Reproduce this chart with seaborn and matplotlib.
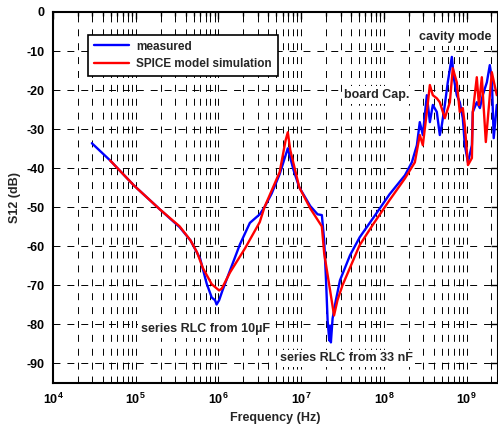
import matplotlib
matplotlib.use("Agg")
import matplotlib.pyplot as plt
import seaborn as sns
import pandas as pd
from matplotlib.lines import Line2D
from matplotlib.ticker import FixedLocator, FixedFormatter, LogLocator, NullFormatter

# ---- data ----
meas_freq = [2.95e4, 4.9e4, 9.5e4, 1.95e5, 3.4e5, 4.6e5, 6.0e5, 7.2e5, 8.3e5, 9.1e5,
             9.5e5, 1.02e6, 1.12e6, 1.38e6, 1.82e6, 2.4e6, 3.16e6, 3.6e6, 4.4e6, 5.5e6, 6.9e6,
             8.1e6, 9.5e6, 1.29e7, 1.58e7, 1.78e7, 1.9e7, 2.0e7, 2.09e7, 2.19e7, 2.24e7,
             2.29e7, 2.4e7, 2.63e7, 2.95e7, 3.9e7, 5.1e7, 7.4e7, 1.17e8, 1.80e8, 2.18e8,
             2.51e8, 2.72e8, 2.96e8, 3.31e8, 3.60e8, 3.91e8, 4.37e8, 4.75e8, 5.02e8, 5.46e8,
             5.93e8, 6.64e8, 7.01e8, 7.62e8, 8.28e8, 9.01e8, 9.53e8, 1.04e9, 1.16e9, 1.19e9,
             1.33e9, 1.45e9, 1.57e9, 1.76e9, 1.91e9, 2.02e9, 2.13e9, 2.32e9]
meas_db = [-33.6, -38.0, -44.4, -50.5, -55.1, -58.5, -63.1, -69.5, -73.1, -73.8,
           -74.9, -73.8, -71.3, -66.2, -59.5, -54.0, -51.8, -50.0, -46.5, -41.5, -34.9,
           -40.5, -44.9, -49.7, -51.8, -52.0, -58.5, -68.7, -79.0, -84.1, -80.3,
           -84.6, -78.5, -73.8, -68.7, -62.3, -57.7, -52.8, -46.7, -41.8, -38.5,
           -34.1, -28.2, -31.5, -21.3, -28.2, -23.8, -25.6, -31.5, -29.0, -23.8,
           -18.0, -11.5, -16.9, -21.3, -23.1, -27.2, -34.1, -38.5, -34.1, -25.6,
           -23.1, -24.6, -21.3, -18.0, -13.6, -16.9, -32.3, -23.8]

sim_freq = [4.9e4, 9.5e4, 1.95e5, 3.4e5, 4.6e5, 5.5e5, 6.5e5, 8.3e5, 1.02e6, 1.1e6,
            1.38e6, 2.1e6, 3.16e6, 3.6e6, 5.5e6, 6.5e6, 6.9e6, 7.4e6, 9.5e6, 1.29e7,
            1.78e7, 1.9e7, 2.24e7, 2.5e7, 2.75e7, 3.16e7, 5.1e7, 7.4e7, 1.17e8, 1.80e8,
            2.37e8, 2.72e8, 2.96e8, 3.31e8, 3.60e8, 3.91e8, 4.37e8, 4.75e8, 5.46e8, 6.28e8,
            6.82e8, 7.62e8, 8.28e8, 9.01e8, 9.53e8, 1.04e9, 1.16e9, 1.19e9, 1.33e9, 1.41e9,
            1.53e9, 1.71e9, 2.02e9, 2.32e9]
sim_db = [-38.0, -44.4, -50.5, -54.9, -58.5, -61.5, -65.6, -69.7, -71.3, -70.8,
          -66.7, -60.5, -53.8, -50.0, -41.0, -32.8, -30.8, -35.4, -44.9, -50.3,
          -54.9, -61.8, -71.3, -77.7, -73.8, -70.0, -59.7, -54.4, -48.2, -42.6,
          -38.5, -31.5, -34.1, -25.6, -18.7, -21.3, -22.1, -23.1, -27.2, -23.1,
          -14.4, -18.0, -25.6, -24.6, -29.0, -39.2, -37.4, -25.6, -16.7, -23.8,
          -16.7, -33.3, -15.4, -21.3]

series_names = ["measured", "SPICE model simulation"]
series_colors = ["#0000ff", "#ff0000"]

y_ticks = [0, -10, -20, -30, -40, -50, -60, -70, -80, -90]
x_ticks = [1e4, 1e5, 1e6, 1e7, 1e8, 1e9]
x_tick_labels = [r"$\mathbf{10^{4}}$", r"$\mathbf{10^{5}}$", r"$\mathbf{10^{6}}$",
                 r"$\mathbf{10^{7}}$", r"$\mathbf{10^{8}}$", r"$\mathbf{10^{9}}$"]

df = pd.concat([
    pd.DataFrame({"f": meas_freq, "db": meas_db, "series": series_names[0]}),
    pd.DataFrame({"f": sim_freq, "db": sim_db, "series": series_names[1]}),
])

sns.set_style("white")
plt.rcParams["font.family"] = ["Liberation Sans", "DejaVu Sans"]
plt.rcParams["font.weight"] = "bold"
plt.rcParams["axes.unicode_minus"] = False
plt.rcParams["mathtext.fontset"] = "custom"
plt.rcParams["mathtext.bf"] = "Liberation Sans:bold"
plt.rcParams["mathtext.rm"] = "Liberation Sans:bold"
plt.rcParams["lines.scale_dashes"] = False

fig = plt.figure(figsize=(4.98, 4.28), dpi=100)
ax = fig.add_axes([53/498, 1 - 383/428, 445/498, 371/428])

sns.lineplot(data=df, x="f", y="db", hue="series", palette=series_colors,
             sort=False, estimator=None, units="series", ax=ax, linewidth=1.7,
             legend=False)

ax.set_xscale("log")
ax.set_xlim(1e4, 2.4e9)
ax.set_ylim(-95, 0)

ax.xaxis.set_major_locator(FixedLocator(x_ticks))
ax.xaxis.set_major_formatter(FixedFormatter(x_tick_labels))
ax.xaxis.set_minor_locator(LogLocator(base=10, subs=[2, 3, 4, 5, 6, 7, 8, 9], numticks=20))
ax.xaxis.set_minor_formatter(NullFormatter())
ax.set_yticks(y_ticks)
ax.set_yticklabels([str(v) for v in y_ticks])

ax.grid(True, which="major", axis="both", color="black", linestyle=(0, (5, 5)), linewidth=0.7)
ax.grid(True, which="minor", axis="x", color="black", linestyle=(0, (5, 5)), linewidth=0.7)
ax.set_axisbelow(True)

for s in ax.spines.values():
    s.set_color("black")
    s.set_linewidth(1.5)
    s.set_visible(True)

ax.tick_params(axis="both", which="both", direction="in", top=True, right=True,
               colors="black", labelsize=9)
ax.tick_params(axis="both", which="major", length=5, width=1, pad=6)
ax.tick_params(axis="x", which="minor", length=3, width=1)
for lbl in ax.get_yticklabels():
    lbl.set_fontweight("bold")

ax.set_xlabel("Frequency (Hz)", fontsize=9, fontweight="bold", labelpad=4)
ax.set_ylabel("S12 (dB)", fontsize=9, fontweight="bold", labelpad=4)

handles = [Line2D([], [], color=c, linewidth=1.7) for c in series_colors]
leg = ax.legend(handles, series_names, loc="upper left", bbox_to_anchor=(0.065, 0.955),
                frameon=True, fancybox=False, edgecolor="black", framealpha=1,
                prop={"weight": "bold", "size": 8.5}, handlelength=3.0,
                borderpad=0.5, labelspacing=0.5, handletextpad=0.6)
leg.get_frame().set_linewidth(1.2)

bb = dict(facecolor="white", edgecolor="none", pad=2)
ax.text(7.2e8, -6.4, "cavity mode", ha="center", va="center", fontsize=9, fontweight="bold", bbox=bb)
ax.text(8.3e7, -21.3, "board Cap.", ha="center", va="center", fontsize=9, fontweight="bold", bbox=bb)
ax.text(6.9e5, -81.3, "series RLC from 10µF", ha="center", va="center", fontsize=9, fontweight="bold", bbox=bb)
ax.text(3.5e7, -88.7, "series RLC from 33 nF", ha="center", va="center", fontsize=9, fontweight="bold", bbox=bb)

fig.savefig("out.png", dpi=100)
